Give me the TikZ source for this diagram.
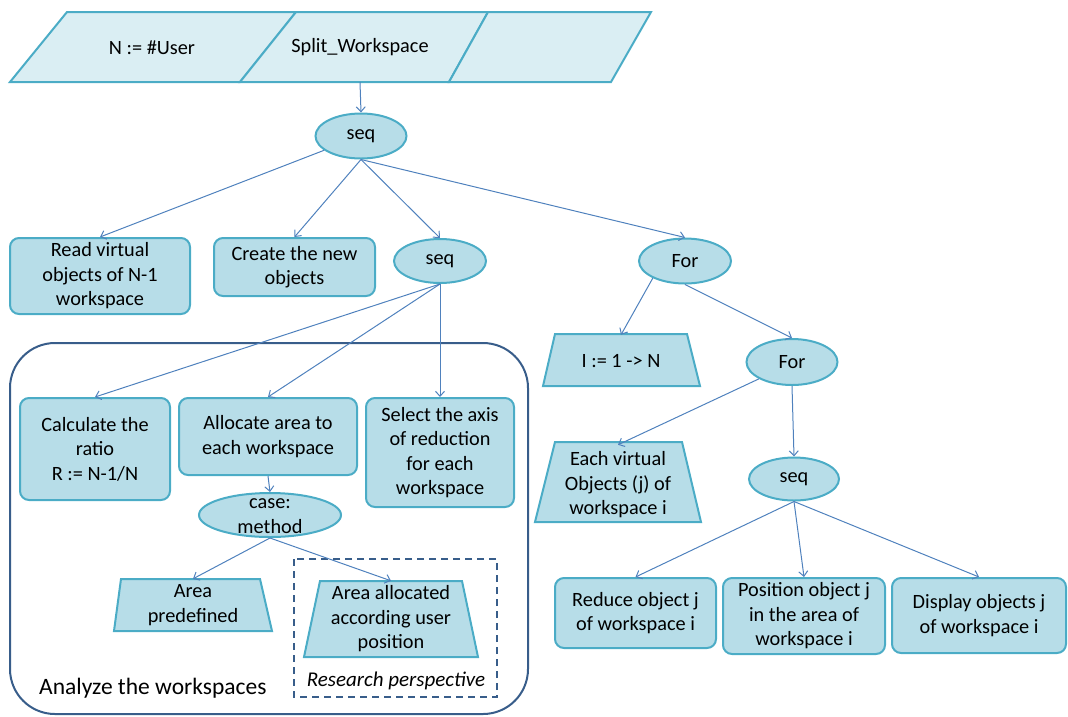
\documentclass[tikz,border=0pt]{standalone}
\usepackage{fontspec}
\setmainfont{Carlito}
\usetikzlibrary{shapes.geometric,arrows.meta}
\pgfdeclarelayer{bg}
\pgfsetlayers{bg,main}
\definecolor{boxfill}{HTML}{B7DDE8}
\definecolor{boxline}{HTML}{4BACC6}
\definecolor{topfill}{HTML}{DAEEF3}
\definecolor{arrowc}{HTML}{4F81BD}
\definecolor{framec}{HTML}{385D8A}
\begin{document}
\begin{tikzpicture}[x=1pt,y=-1pt,
  every node/.style={font=\fontsize{20.3}{24.5}\selectfont, text=black, inner sep=0pt, align=center},
  rbox/.style={rectangle, rounded corners=9pt, fill=boxfill, draw=boxline, line width=2pt},
  ell/.style={ellipse, fill=boxfill, draw=boxline, line width=2pt},
  txt/.style={rectangle},
  shp/.style={fill=boxfill, draw=boxline, line width=2pt, line join=miter},
  topshp/.style={fill=topfill, draw=boxline, line width=2pt, line join=miter},
  arr/.style={draw=arrowc, line width=1pt, -{Straight Barb[length=5pt,width=9pt]}},
  framebox/.style={draw=framec, line width=2pt},
]
\useasboundingbox (0,0) rectangle (1068,716);

% ---- background shapes ----
\begin{pgfonlayer}{bg}
  \path[topshp] (10,82) -- (67,12) -- (296,12) -- (240,82) -- cycle;
  \path[topshp] (240,82) -- (296,12) -- (488,12) -- (449,82) -- cycle;
  \path[topshp] (449,82) -- (488,12) -- (651,12) -- (611,82) -- cycle;
  \draw[framebox, rounded corners=45pt] (10,343) rectangle (528,714);
  \draw[framebox, dash pattern=on 7pt off 5pt] (294,559) rectangle (497,697);
  % trapezoids
  \path[shp] (114,631) -- (121,579) -- (260,579) -- (272,631) -- cycle;
  \path[shp] (304,657) -- (320,581) -- (462,581) -- (478,657) -- cycle;
  \path[shp] (543,386) -- (555,334) -- (687,334) -- (700,386) -- cycle;
  \path[shp] (535,522) -- (555,442) -- (682,442) -- (701,522) -- cycle;
\end{pgfonlayer}

% ---- top bar ----
\node[txt, minimum height=70pt] (p1) at (152,47.5) {N := \#User};
\node[txt, minimum height=69pt] (p2) at (360,47.5) {Split\_Workspace};

% ---- nodes ----
\node[ell, minimum width=91pt, minimum height=45pt] (seq1) at (361,136) {seq};
\node[rbox, minimum width=180pt, minimum height=76pt] (read) at (100,276) {Read virtual\\objects of N-1\\workspace};
\node[rbox, minimum width=161pt, minimum height=58pt] (create) at (294.5,267) {Create the new\\objects};
\node[ell, minimum width=92pt, minimum height=44pt] (seq2) at (440,261) {seq};
\node[ell, minimum width=92pt, minimum height=45pt] (for1) at (685,261) {For};

\node[rbox, minimum width=150pt, minimum height=102pt] (calc) at (95,449) {Calculate the\\ratio\\R := N-1/N};
\node[rbox, minimum width=178pt, minimum height=77pt] (alloc) at (268,436.5) {Allocate area to\\each workspace};
\node[rbox, minimum width=148pt, minimum height=109pt] (select) at (440,452.5) {Select the axis\\of reduction\\for each\\workspace};
\node[ell, minimum width=142pt, minimum height=44pt] (case) at (270,515) {};
\node[txt] (casetext) at (270,516) {case:\\method};

\node[txt, minimum width=140pt, minimum height=52pt] (apre) at (193,605) {Area\\predefined};
\node[txt, minimum width=142pt, minimum height=76pt] (aalloc) at (391,619) {Area allocated\\according user\\position};
\node[txt, anchor=west, font=\fontsize{23.5}{28}\selectfont] (analyze) at (39,688) {Analyze the workspaces};
\node[txt, font=\fontsize{21}{25}\selectfont\itshape] (research) at (396,681) {Research perspective};

\node[txt, minimum width=132pt, minimum height=52pt] (iloop) at (621,361) {I := 1 -> N};
\node[ell, minimum width=91pt, minimum height=46pt] (for2) at (792,362) {For};
\node[txt, minimum width=127pt, minimum height=80pt] (each) at (618,485) {Each virtual\\Objects (j) of\\workspace i};
\node[ell, minimum width=90pt, minimum height=43pt] (seq3) at (794,479) {seq};

\node[rbox, minimum width=161pt, minimum height=70pt] (reduce) at (635.5,613) {Reduce object j\\of workspace i};
\node[rbox, minimum width=162pt, minimum height=76pt] (position) at (804,616) {Position object j\\in the area of\\workspace i};
\node[rbox, minimum width=174pt, minimum height=75pt] (display) at (979,615.5) {Display objects j\\of workspace i};

% ---- connectors ----
\draw[arr] (p2.south) -- (seq1.north);
\draw[arr] (seq1) -- (read.north);
\draw[arr] (seq1.south) -- (create.north);
\draw[arr] (seq1.south) -- (seq2.north);
\draw[arr] (seq1.south) -- (for1.north);

\draw[arr] (seq2.south) -- (calc.north);
\draw[arr] (seq2.south) -- (alloc.north);
\draw[arr] (seq2.south) -- (select.north);
\draw[arr] (alloc.south) -- (case.north);
\draw[arr] (case.south) -- (apre.north);
\draw[arr] (case.south) -- (aalloc.north);

\draw[arr] (for1.208) -- (iloop.north);
\draw[arr] (for1.south) -- (for2.north);
\draw[arr] (for2.207) -- (each.north);
\draw[arr] (for2.south) -- (seq3.north);
\draw[arr] (seq3.south) -- (reduce.north);
\draw[arr] (seq3.south) -- (position.north);
\draw[arr] (seq3.south) -- (display.north);
\end{tikzpicture}
\end{document}
